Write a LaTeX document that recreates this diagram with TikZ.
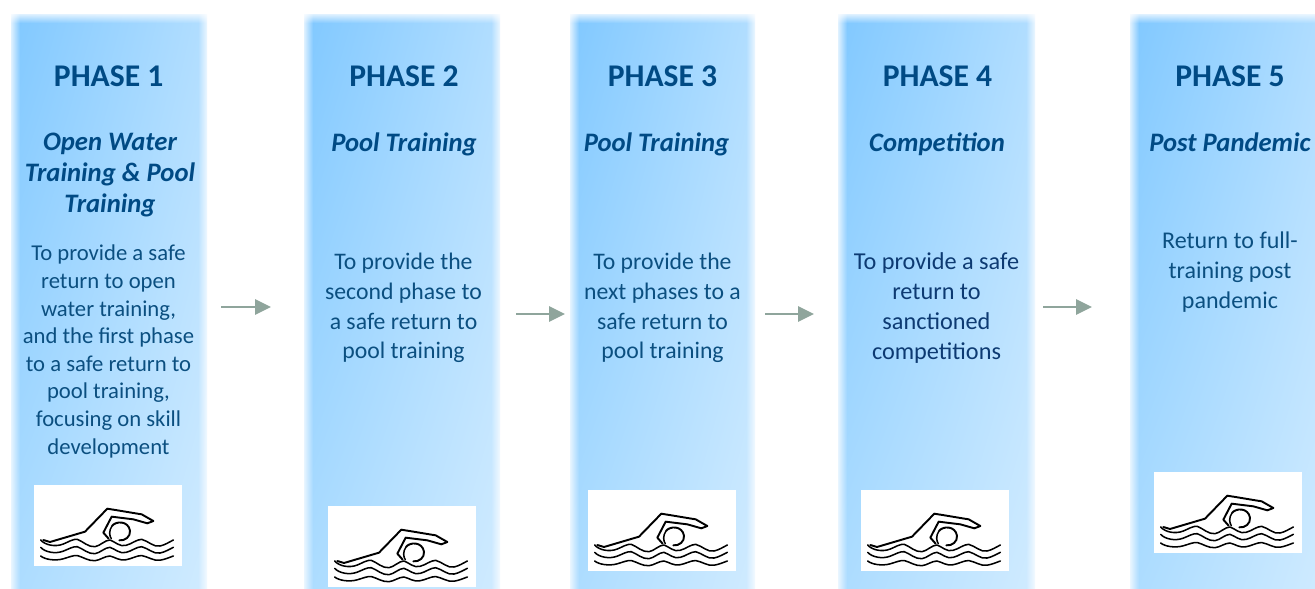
\documentclass[tikz,border=0pt]{standalone}
\usepackage{fontspec}
\setmainfont{Carlito}
\usetikzlibrary{fadings,shadings,arrows.meta}
\definecolor{titleblue}{HTML}{004A84}
\definecolor{bodyblue}{HTML}{0B4F80}
\definecolor{bodydark}{HTML}{0D3A72}
\definecolor{arrowgrey}{HTML}{8FA59C}
\definecolor{colul}{HTML}{80C8FF}
\definecolor{colur}{HTML}{B2DEFF}
\definecolor{colll}{HTML}{ACDCFF}
\definecolor{collr}{HTML}{D0EBFF}
\tikzset{
  x=0.75pt,y=-0.75pt,
  titletext/.style={font=\fontsize{23.7}{28}\selectfont\bfseries,text=titleblue,inner sep=0pt,anchor=base},
  subtext/.style={font=\fontsize{20}{22.9}\selectfont\bfseries\itshape,text=titleblue,inner sep=0pt,align=center,anchor=center},
  subone/.style={subtext,anchor=base},
  bodytext/.style={font=\fontsize{17.8}{22.3}\selectfont,text=bodyblue,inner sep=0pt,align=center,anchor=center},
  flowarrow/.style={draw=arrowgrey,line width=1.5pt,-{Triangle[length=12pt,width=11.5pt]}},
  wave/.style={line width=1.15pt,black,line cap=round,line join=round},
}
\newcommand{\phasecol}[4]{% x1 x2 y1 y2
  \shade[upper left=colul,upper right=colur,lower left=colll,lower right=collr]
    (#1-3,#3-3) rectangle (#2+3,#4);
  \fill[white,path fading=east] (#1-6,#3-6) rectangle (#1+6,#4);
  \fill[white,path fading=west] (#2-6,#3-6) rectangle (#2+6,#4);
  \fill[white,path fading=south] (#1-6,#3-6) rectangle (#2+6,#3+6);
}
\newcommand{\swimmer}[2]{%
  \begin{scope}[shift={(#1,#2)},x=0.25pt,y=-0.25pt]
    \fill[white] (0,0) rectangle (444,242);
    \begin{scope}[shift={(-102,-75)}]
    \draw[wave,line width=1.45pt] (130,240) -- (150,246) -- (255,215) -- (322,146) -- (425,163) -- (460,183) -- (442,190) -- (400,178) -- (335,170) -- (310,218) -- (326,236);
    \draw[wave,line width=1.45pt] (336,198) .. controls (348,182) and (385,182) .. (390,212) .. controls (392,230) and (375,243) .. (358,241);
    \draw[wave] (336,198) .. controls (326,212) and (328,228) .. (334,236);
    \foreach \dy/\a in {0/1,22/0.95,48/0.7}{
      \draw[wave] (122,240+\dy) .. controls (135,240+\dy+15*\a) and (165,240+\dy+22*\a) .. (190,240+\dy+12*\a)
        .. controls (205,240+\dy+6*\a) and (220,240+\dy-4*\a) .. (232,240+\dy-2*\a)
        .. controls (250,240+\dy+5*\a) and (265,240+\dy+22*\a) .. (285,240+\dy+20*\a)
        .. controls (300,240+\dy+18*\a) and (315,240+\dy) .. (330,240+\dy)
        .. controls (345,240+\dy+5*\a) and (360,240+\dy+22*\a) .. (378,240+\dy+16*\a)
        .. controls (395,240+\dy+12*\a) and (410,240+\dy-2*\a) .. (425,240+\dy-2*\a)
        .. controls (445,240+\dy+3*\a) and (460,240+\dy+22*\a) .. (480,240+\dy+18*\a)
        .. controls (495,240+\dy+15*\a) and (510,240+\dy+5*\a) .. (520,240+\dy);
    }
    \end{scope}
  \end{scope}
}
\begin{document}
\begin{tikzpicture}
\useasboundingbox (0,0) rectangle (1315,589);
\fill[white] (0,0) rectangle (1315,589);
\begin{scope}
\clip (0,0) rectangle (1315,589);
\phasecol{14}{204}{17}{589}
\phasecol{307}{497}{17}{589}
\phasecol{573}{752}{17}{589}
\phasecol{841}{1032}{17}{589}
\phasecol{1133}{1325}{17}{589}
\end{scope}

\node[titletext] (t1) at (108.7,86) {PHASE 1};
\node[titletext] (t2) at (404,86) {PHASE 2};
\node[titletext] (t3) at (662.5,86) {PHASE 3};
\node[titletext] (t4) at (937.5,86) {PHASE 4};
\node[titletext] (t5) at (1230,86) {PHASE 5};

\node[subtext] (s1) at (110,175) {Open Water\\Training \& Pool\\Training};
\node[subone] (s2) at (404,151) {Pool Training};
\node[subone] (s3) at (656.5,151) {Pool Training};
\node[subone] (s4) at (937,151) {Competition};
\node[subone] (s5) at (1230,151) {Post Pandemic};

\node[bodytext,font=\fontsize{17}{20.7}\selectfont] (b1) at (108.5,351.5) {To provide a safe\\return to open\\water training,\\and the first phase\\to a safe return to\\pool training,\\focusing on skill\\development};
\node[bodytext] (b2) at (403.5,308) {To provide the\\second phase to\\a safe return to\\pool training};
\node[bodytext] (b3) at (662.5,308) {To provide the\\next phases to a\\safe return to\\pool training};
\node[bodytext,font=\fontsize{18.2}{22.3}\selectfont,text=bodydark] (b4) at (936.5,308) {To provide a safe\\return to\\sanctioned\\competitions};
\node[bodytext,font=\fontsize{18}{22.3}\selectfont] (b5) at (1230,272) {Return to full-\\training post\\pandemic};

\swimmer{34}{485}
\swimmer{328}{506}
\swimmer{588}{490}
\swimmer{861}{490}
\swimmer{1154}{472}

\coordinate (a1s) at (221,307); \coordinate (a1e) at (271,307);
\coordinate (a2s) at (516,314); \coordinate (a2e) at (565,314);
\coordinate (a3s) at (765,314); \coordinate (a3e) at (814,314);
\coordinate (a4s) at (1043,307); \coordinate (a4e) at (1092,307);
\draw[flowarrow] (a1s) -- (a1e);
\draw[flowarrow] (a2s) -- (a2e);
\draw[flowarrow] (a3s) -- (a3e);
\draw[flowarrow] (a4s) -- (a4e);
\end{tikzpicture}
\end{document}
